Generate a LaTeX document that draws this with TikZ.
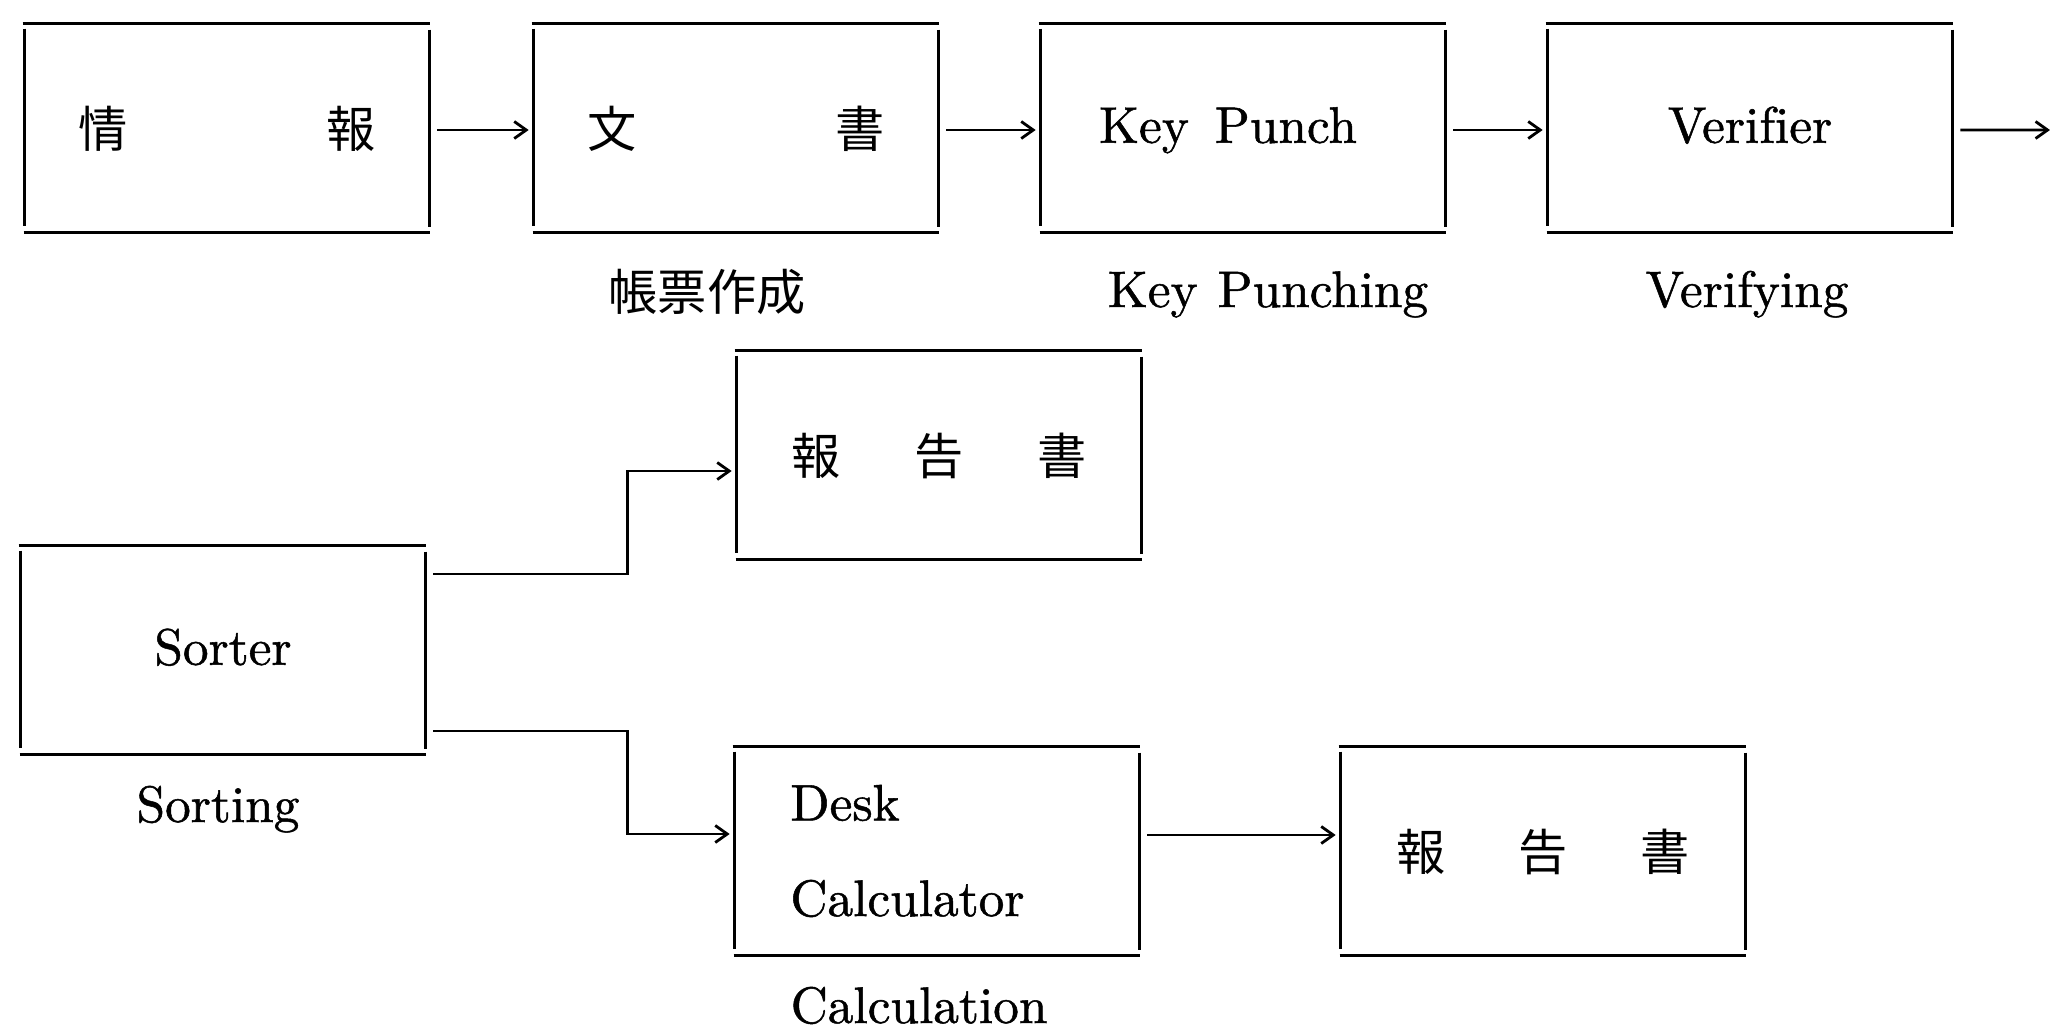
\documentclass[tikz,border=0pt]{standalone}
\usepackage{fontspec}
\setmainfont{lmroman10-regular}[Extension=.otf, FakeBold=1, Ligatures=NoCommon]
\newfontfamily\cjk{Noto Sans CJK JP}
\newcommand\jp[1]{{\cjk\fontsize{14}{17}\selectfont #1}}
\newcommand\jpb[1]{\raisebox{-0.11cm}{\jp{#1}}}
\newcommand\ltb[1]{\raisebox{-0.06cm}{#1}}
\usetikzlibrary{arrows.meta,calc}
\newcommand\oldframe[1]{%
  \draw[hl] ([xshift=-0.02cm]#1.north west) -- ([xshift=0.01cm]#1.north east);
  \draw[hl] ([xshift=-0.01cm]#1.south west) -- ([xshift=0.01cm]#1.south east);
  \draw[vl] ([yshift=-0.05cm]#1.north west) -- ([yshift=0.06cm]#1.south west);
  \draw[vl] ([yshift=-0.06cm]#1.north east) -- ([yshift=0.05cm]#1.south east);
}
\begin{document}
\begin{tikzpicture}[x=0.01cm,y=-0.01cm,
  every node/.style={font=\fontsize{14.6}{17.5}\selectfont},
  boxx/.style={minimum width=4.03cm, minimum height=2.07cm, inner sep=0pt, text height=0.7em, text depth=0.2em},
  boxd/.style={minimum width=4.03cm, minimum height=2.07cm, inner xsep=0.55cm, inner ysep=0pt, text width=2.93cm, align=left},
  hl/.style={line width=0.9pt},
  vl/.style={line width=0.75pt},
  tipp/.style={-{Straight Barb[length=1.2mm,width=1.7mm]}},
  arr/.style={line width=0.8pt, tipp, shorten <=0.08cm, shorten >=0.05cm},
  ln/.style={line width=0.8pt},
  lbl/.style={inner sep=0pt},
]
\useasboundingbox (0,0) rectangle (2050,1036);

% boxes
\node[boxx] (b1) at (227,128) {\jpb{情}\hspace{1.99cm}\jpb{報}};
\node[boxx] (b2) at (736,128) {\jpb{文}\hspace{1.99cm}\jpb{書}};
\node[boxx] (b3) at (1243,128) {\ltb{Key\hspace{0.26cm}Punch}\kern0.3cm};
\node[boxx] (b4) at (1750,128) {\ltb{Verifier}};
\node[boxx] (sorter) at (223,650) {\ltb{Sorter}};
\node[boxx] (r1) at (939,455) {\jpb{報}\hspace{0.74cm}\jpb{告}\hspace{0.74cm}\jpb{書}};
\node[boxd] (dc) at (937,851) {Desk\\[0.34cm]Calculator};
\node[boxx] (r2) at (1543,851) {\jpb{報}\hspace{0.73cm}\jpb{告}\hspace{0.73cm}\jpb{書}};

\foreach \n in {b1,b2,b3,b4,sorter,r1,dc,r2} {\oldframe{\n}}

% labels
\node[lbl, anchor=center] (l2) at (707,292) {\jp{帳票作成}};
\node[lbl, anchor=base] (l3) at (1268,307) {Key\hspace{0.2cm}Punching};
\node[lbl, anchor=base] (l4) at (1747,307) {Verifying};
\node[lbl, anchor=base] (l5) at (218,822) {Sorting};
\node[lbl, anchor=base west] (l6) at (790,1023) {Calculation};

% top row connectors
\coordinate (edge) at (2050,130);
\draw[arr] ([yshift=-0.02cm]b1.east) -- ([yshift=-0.02cm]b2.west);
\draw[arr] ([yshift=-0.02cm]b2.east) -- ([yshift=-0.02cm]b3.west);
\draw[arr] ([yshift=-0.02cm]b3.east) -- ([yshift=-0.02cm]b4.west);
\draw[arr, shorten >=0pt] ([yshift=-0.02cm]b4.east) -- (edge);

% branching connectors
\coordinate (j1) at ([xshift=-1.09cm,yshift=-0.16cm]r1.west);
\draw[ln, tipp, shorten >=0.05cm] ([shift={(0.08cm,0.76cm)}]sorter.east) -| (j1) -- ([yshift=-0.16cm]r1.west);
\coordinate (j2) at ([xshift=-1.07cm,yshift=0.17cm]dc.west);
\draw[ln, tipp, shorten >=0.05cm] ([shift={(0.08cm,-0.81cm)}]sorter.east) -| (j2) -- ([yshift=0.17cm]dc.west);
\draw[arr] ([yshift=0.16cm]dc.east) -- ([yshift=0.16cm]r2.west);
\end{tikzpicture}
\end{document}
